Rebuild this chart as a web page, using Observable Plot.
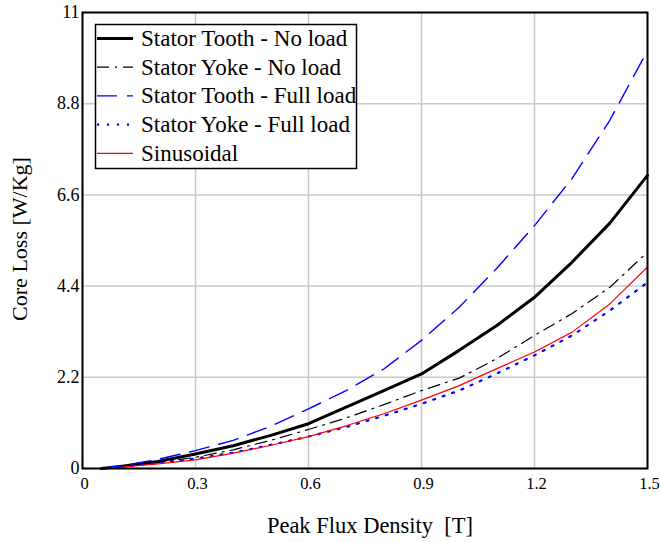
<!DOCTYPE html>
<html>
<head>
<meta charset="utf-8">
<script src="https://cdn.jsdelivr.net/npm/d3@7"></script>
<script src="https://cdn.jsdelivr.net/npm/@observablehq/plot@0.6"></script>
<style>
  body { margin: 0; background: #fff; }
  #chart { width: 660px; height: 542px; }
</style>
</head>
<body>
<div id="chart"></div>
<script>
const flux = [0.05, 0.1, 0.2, 0.3, 0.4, 0.5, 0.6, 0.7, 0.8, 0.9, 1.0, 1.1, 1.2, 1.3, 1.4, 1.5];
const toothNoLoad   = [0, 0.05, 0.17, 0.35, 0.55, 0.80, 1.08, 1.48, 1.88, 2.28, 2.85, 3.45, 4.13, 4.98, 5.92, 7.07];
const yokeNoLoad    = [0, 0.04, 0.14, 0.27, 0.45, 0.68, 0.94, 1.22, 1.54, 1.88, 2.18, 2.65, 3.21, 3.74, 4.37, 5.22];
const toothFullLoad = [0, 0.06, 0.22, 0.43, 0.68, 1.02, 1.44, 1.88, 2.40, 3.09, 3.89, 4.83, 5.86, 7.00, 8.40, 10.08];
const yokeFullLoad  = [0, 0.04, 0.13, 0.24, 0.38, 0.57, 0.77, 1.00, 1.27, 1.56, 1.88, 2.29, 2.73, 3.21, 3.81, 4.49];
const sinusoidal    = [0, 0.03, 0.11, 0.21, 0.37, 0.56, 0.77, 1.03, 1.32, 1.65, 2.00, 2.41, 2.81, 3.29, 3.97, 4.86];

const seriesNames = ["Stator Tooth - No load", "Stator Yoke - No load", "Stator Tooth - Full load", "Stator Yoke - Full load", "Sinusoidal"];
const seriesValues = [toothNoLoad, yokeNoLoad, toothFullLoad, yokeFullLoad, sinusoidal];
const xTicks = [0, 0.3, 0.6, 0.9, 1.2, 1.5];
const xTickLabels = ["0", "0.3", "0.6", "0.9", "1.2", "1.5"];
const yTicks = [0, 2.2, 4.4, 6.6, 8.8, 11];
const yTickLabels = ["0", "2.2", "4.4", "6.6", "8.8", "11"];
const xLabel = "Peak Flux Density  [T]";
const yLabel = "Core Loss [W/Kg]";

const styles = [
  {stroke: "#000000", strokeWidth: 3, dash: null},
  {stroke: "#000000", strokeWidth: 1.2, dash: "12,6,2,6"},
  {stroke: "#0000ff", strokeWidth: 1.4, dash: "20,10"},
  {stroke: "#0000ff", strokeWidth: 2.2, dash: "2,8"},
  {stroke: "#ff0000", strokeWidth: 1.2, dash: null}
];

const rows = [];
seriesNames.forEach((name, i) => {
  flux.forEach((x, j) => rows.push({series: name, x, y: seriesValues[i][j]}));
});

const lineMarks = seriesNames.map((name, i) => Plot.line(rows.filter(r => r.series === name), {
  x: "x", y: "y",
  stroke: styles[i].stroke,
  strokeWidth: styles[i].strokeWidth,
  strokeDasharray: styles[i].dash,
  strokeLinejoin: "round"
}));

const W = 660, H = 542;
const mL = 82, mR = 13, mT = 12, mB = 74;

const chart = Plot.plot({
  width: W,
  height: H,
  marginLeft: mL,
  marginRight: mR,
  marginTop: mT,
  marginBottom: mB,
  style: {fontFamily: "Liberation Serif, serif", fontSize: "16px", color: "#000", background: "#fff"},
  x: {domain: [0, 1.5]},
  y: {domain: [0, 11]},
  marks: [
    Plot.gridX(xTicks, {stroke: "#c8c8c8", strokeOpacity: 1, strokeWidth: 1.5}),
    Plot.gridY(yTicks, {stroke: "#c8c8c8", strokeOpacity: 1, strokeWidth: 1.5}),
    ...lineMarks,
    Plot.frame({stroke: "#000", strokeWidth: 2}),
    Plot.axisX({ticks: xTicks, tickSize: 0, tickPadding: 9, dx: 2, fontSize: 16.5, tickFormat: (d, i) => xTickLabels[i], label: null, fill: "#000"}),
    Plot.axisY({ticks: yTicks, tickSize: 0, tickPadding: 3, fontSize: 18, tickFormat: (d, i) => yTickLabels[i], label: null, fill: "#000"})
  ]
});

document.getElementById("chart").appendChild(chart);

const svg = d3.select(chart);

function addText(sel, size) {
  return sel.append("text")
    .style("font-family", "Liberation Serif, serif")
    .style("font-size", size + "px")
    .style("fill", "#000");
}

addText(svg, 22.5)
  .attr("x", 370).attr("y", 533)
  .style("text-anchor", "middle")
  .style("white-space", "pre")
  .text(xLabel);

addText(svg, 22)
  .attr("transform", "translate(27,239) rotate(-90)")
  .style("text-anchor", "middle")
  .text(yLabel);

// legend
const lg = svg.append("g");
lg.append("rect")
  .attr("x", 95.5).attr("y", 24.5).attr("width", 261).attr("height", 144)
  .attr("fill", "#fff").attr("stroke", "#000").attr("stroke-width", 1.5);
seriesNames.forEach((name, i) => {
  const cy = 38.5 + i * 28.7;
  lg.append("line")
    .attr("x1", 97).attr("x2", 133).attr("y1", cy).attr("y2", cy)
    .attr("stroke", styles[i].stroke)
    .attr("stroke-width", styles[i].strokeWidth)
    .attr("stroke-dasharray", styles[i].dash);
  addText(lg, 23)
    .attr("x", 141).attr("y", cy + 7.5)
    .style("text-anchor", "start")
    .text(name);
});
</script>
</body>
</html>
